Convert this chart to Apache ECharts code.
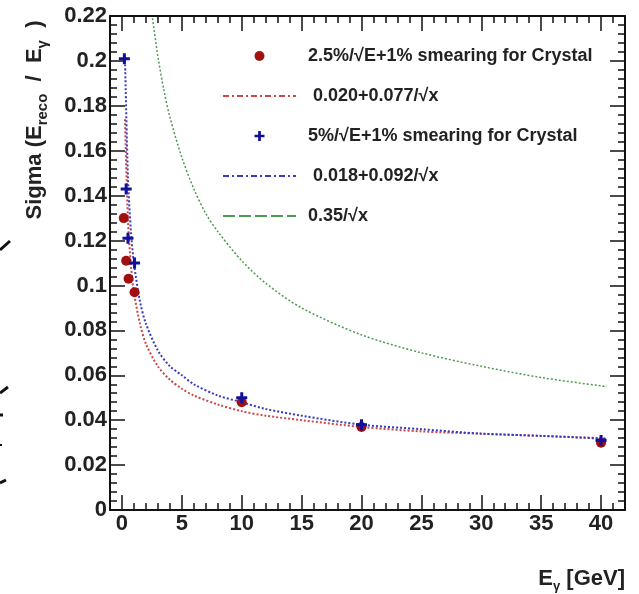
<!DOCTYPE html>
<html>
<head>
<meta charset="utf-8">
<script src="https://cdn.jsdelivr.net/npm/echarts@6/dist/echarts.min.js"></script>
<style>
html, body { margin: 0; padding: 0; background: #fff; }
#main { width: 639px; height: 594px; }
</style>
</head>
<body>
<div id="main"></div>
<script>
var redE = [0.15, 0.35, 0.55, 1.05, 10, 20, 40];
var redSigma = [0.130, 0.111, 0.103, 0.097, 0.048, 0.037, 0.030];
var blueE = [0.2, 0.35, 0.5, 1.05, 10, 20, 40];
var blueSigma = [0.201, 0.143, 0.121, 0.110, 0.050, 0.038, 0.031];

// fitted curves
var fitE = [0.25, 0.5, 0.75, 1, 1.5, 2, 3, 4, 5, 6, 8, 10, 12, 15, 20, 25, 30, 35, 40, 40.5];
var redFit = [0.174, 0.129, 0.109, 0.097, 0.083, 0.074, 0.064, 0.058, 0.054, 0.051, 0.047, 0.044, 0.042, 0.040, 0.037, 0.035, 0.034, 0.033, 0.032, 0.0318];
var blueFit = [0.202, 0.148, 0.124, 0.110, 0.093, 0.083, 0.071, 0.064, 0.060, 0.056, 0.051, 0.048, 0.045, 0.042, 0.038, 0.036, 0.034, 0.033, 0.0318, 0.0315];
var greenE = [2.55, 3, 3.5, 4, 5, 6, 7, 8, 10, 12, 15, 20, 25, 30, 35, 40, 40.5];
var greenFit = [0.219, 0.202, 0.187, 0.175, 0.157, 0.143, 0.132, 0.124, 0.111, 0.101, 0.090, 0.078, 0.070, 0.064, 0.059, 0.0553, 0.055];

var xMajorTicks = [0, 5, 10, 15, 20, 25, 30, 35, 40];

var names = [
  '2.5%/√E+1% smearing for Crystal',
  '0.020+0.077/√x',
  '5%/√E+1% smearing for Crystal',
  '0.018+0.092/√x',
  '0.35/√x'
];

function pairs(xs, ys) {
  return xs.map(function (x, i) { return [x, ys[i]]; });
}

var FONT = '"Liberation Sans", Arial, sans-serif';
var INK = '#222';
var crossPath = 'path://M4,0H7V4H11V7H7V11H4V7H0V4H4Z';

function xAxisCfg(pos, major) {
  var a = {
    type: 'value', position: pos, min: -1, max: 42,
    splitLine: { show: false },
    axisLine: { show: major, onZero: false, lineStyle: { color: '#111', width: 2 } },
    axisTick: { inside: true, length: major ? 15 : 7, lineStyle: { color: '#111', width: 1.5 } },
    axisLabel: { show: false }
  };
  if (major) {
    a.axisTick.customValues = xMajorTicks;
    a.axisLabel.customValues = xMajorTicks;
  } else {
    a.interval = 1;
  }
  return a;
}

function yAxisCfg(pos, labels) {
  return {
    type: 'value', position: pos, min: 0, max: 0.22, interval: 0.02,
    splitLine: { show: false },
    axisLine: { show: true, onZero: false, lineStyle: { color: '#111', width: 2 } },
    axisTick: { inside: true, length: 15, lineStyle: { color: '#111', width: 1.5 } },
    minorTick: { show: true, splitNumber: 5, length: 7, lineStyle: { color: '#111', width: 1.5 } },
    axisLabel: {
      show: labels, margin: 3, color: INK, fontFamily: FONT, fontSize: 22, fontWeight: 'bold',
      formatter: function (v) { return String(+v.toFixed(2)); }
    }
  };
}

var xBottom = xAxisCfg('bottom', true);
xBottom.axisLabel = {
  show: true, customValues: xMajorTicks, margin: 3, color: INK, fontFamily: FONT, fontSize: 22, fontWeight: 'bold'
};
xBottom.name = '{m|E}{s|γ}{m| [GeV]}';
xBottom.nameLocation = 'end';
xBottom.nameGap = 0;
xBottom.nameTextStyle = {
  align: 'right', verticalAlign: 'top', padding: [55, 0, 0, 0],
  rich: {
    m: { fontFamily: FONT, fontSize: 22, fontWeight: 'bold', color: INK, lineHeight: 28, verticalAlign: 'middle' },
    s: { fontFamily: FONT, fontSize: 13, fontWeight: 'bold', color: INK, lineHeight: 13, verticalAlign: 'bottom' }
  }
};

var yLeft = yAxisCfg('left', true);
yLeft.name = '{m|Sigma (E}{s|reco}{m|  /  E}{s|γ}{m|  )}';
yLeft.nameLocation = 'middle';
yLeft.nameGap = 60;
yLeft.nameTextStyle = {
  padding: [0, 0, 0, 286],
  rich: {
    m: { fontFamily: FONT, fontSize: 22, fontWeight: 'bold', color: INK, lineHeight: 30, verticalAlign: 'middle' },
    s: { fontFamily: FONT, fontSize: 15, fontWeight: 'bold', color: INK, lineHeight: 15, verticalAlign: 'bottom' }
  }
};

var lineLegendItem = { opacity: 0 };

var chart = echarts.init(document.getElementById('main'));
chart.setOption({
  backgroundColor: '#fff',
  animation: false,
  grid: { left: 110, right: 14, top: 16, bottom: 84 },
  xAxis: [xBottom, xAxisCfg('bottom', false), xAxisCfg('top', true), xAxisCfg('top', false)],
  yAxis: [yLeft, yAxisCfg('right', false)],
  legend: {
    orient: 'vertical', left: 217, top: 42,
    itemWidth: 73, itemHeight: 10, itemGap: 22,
    textStyle: { fontFamily: FONT, fontSize: 18, fontWeight: 'bold', color: INK, padding: [0, 0, 0, 7] },
    data: [
      { name: names[0] },
      { name: names[1], itemStyle: lineLegendItem, lineStyle: { type: [6, 3, 2, 3], width: 2 }, textStyle: { padding: [0, 0, 0, 12] } },
      { name: names[2] },
      { name: names[3], itemStyle: lineLegendItem, lineStyle: { type: [6, 3, 2, 3], width: 2 }, textStyle: { padding: [0, 0, 0, 12] } },
      { name: names[4], itemStyle: lineLegendItem, lineStyle: { type: [12, 4], width: 2 } }
    ]
  },
  graphic: [
    { type: 'polyline', shape: { points: [[0, 250], [10, 241]] }, style: { stroke: '#111', lineWidth: 3 } },
    { type: 'polyline', shape: { points: [[0, 393], [8, 387]] }, style: { stroke: '#111', lineWidth: 3 } },
    { type: 'polyline', shape: { points: [[0, 415], [3, 415]] }, style: { stroke: '#111', lineWidth: 3 } },
    { type: 'polyline', shape: { points: [[0, 445], [2, 445]] }, style: { stroke: '#111', lineWidth: 2 } },
    { type: 'polyline', shape: { points: [[0, 483], [6, 480]] }, style: { stroke: '#111', lineWidth: 3 } }
  ],
  series: [
    {
      name: names[4], type: 'line', data: pairs(greenE, greenFit),
      smooth: 0.3, symbol: 'none', z: 2,
      lineStyle: { color: '#4e9a4e', width: 1.5, type: [2, 2] }, itemStyle: { color: '#3a8f3a' }
    },
    {
      name: names[1], type: 'line', data: pairs(fitE, redFit),
      smooth: 0.3, symbol: 'none', z: 3,
      lineStyle: { color: '#c84848', width: 2, type: [2, 2] }, itemStyle: { color: '#c03535' }
    },
    {
      name: names[3], type: 'line', data: pairs(fitE, blueFit),
      smooth: 0.3, symbol: 'none', z: 3,
      lineStyle: { color: '#3a3ac0', width: 2, type: [2, 2] }, itemStyle: { color: '#2a2ab0' }
    },
    {
      name: names[0], type: 'scatter', data: pairs(redE, redSigma),
      symbol: 'circle', symbolSize: 10, z: 5,
      itemStyle: { color: '#a01010', opacity: 1 }
    },
    {
      name: names[2], type: 'scatter', data: pairs(blueE, blueSigma),
      symbol: crossPath, symbolSize: 11, z: 6,
      itemStyle: { color: '#10109a', opacity: 1 }
    }
  ]
});
</script>
</body>
</html>
